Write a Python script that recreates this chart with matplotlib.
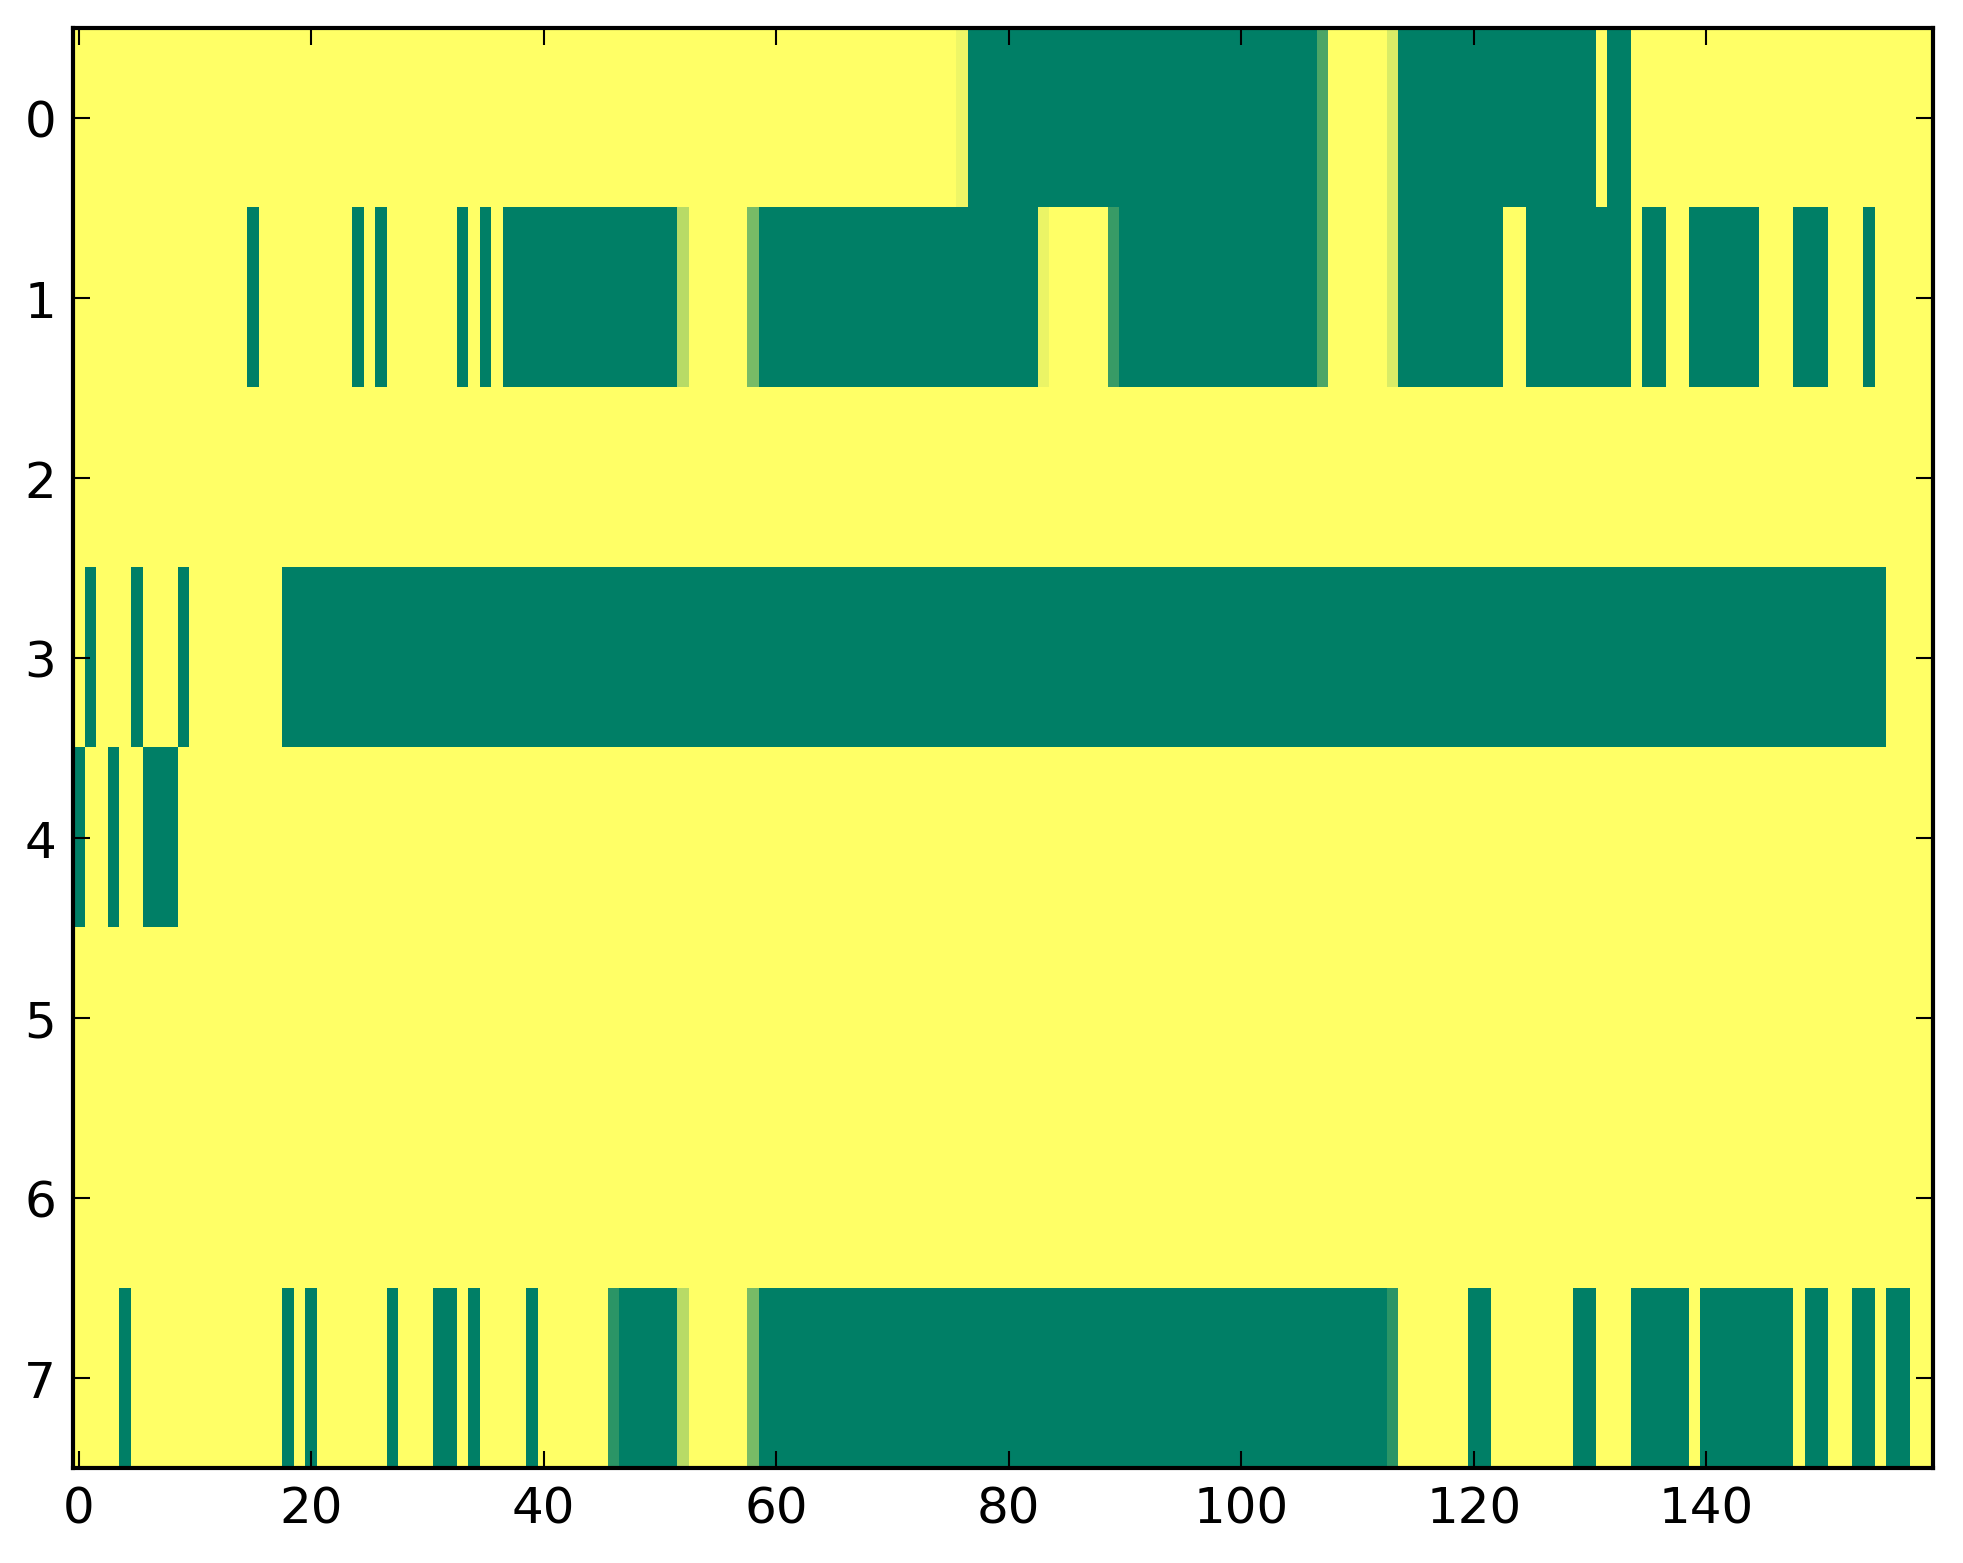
import numpy as np
import matplotlib
matplotlib.use("Agg")
import matplotlib.pyplot as plt

n_rows = 8
n_cols = 160

# Each row: runs (start, end inclusive) of cells with value 0 (dark green);
# everything else is 1 (yellow) unless listed in the partial-value dicts.
row0_zero = [(77, 106), (114, 130), (132, 133)]
row0_part = {76: 0.93, 107: 0.30, 113: 0.85}

row1_zero = [(15, 15), (24, 24), (26, 26), (33, 33), (35, 35), (37, 51),
             (59, 82), (90, 106), (114, 122), (125, 133), (135, 136),
             (139, 144), (148, 150), (154, 154)]
row1_part = {52: 0.72, 58: 0.47, 83: 0.92, 89: 0.22, 107: 0.30, 113: 0.85}

row2_zero = []
row2_part = {}

row3_zero = [(1, 1), (5, 5), (9, 9), (18, 155)]
row3_part = {}

row4_zero = [(0, 0), (3, 3), (6, 8)]
row4_part = {}

row5_zero = []
row5_part = {}

row6_zero = []
row6_part = {}

row7_zero = [(4, 4), (18, 18), (20, 20), (27, 27), (31, 32), (34, 34),
             (39, 39), (47, 51), (59, 112), (120, 121), (129, 130),
             (134, 138), (140, 147), (149, 150), (153, 154), (156, 157)]
row7_part = {46: 0.17, 52: 0.72, 58: 0.47, 113: 0.17}

zero_runs = [row0_zero, row1_zero, row2_zero, row3_zero,
             row4_zero, row5_zero, row6_zero, row7_zero]
partials = [row0_part, row1_part, row2_part, row3_part,
            row4_part, row5_part, row6_part, row7_part]

data = np.ones((n_rows, n_cols))
for r in range(n_rows):
    for a, b in zero_runs[r]:
        data[r, a:b + 1] = 0.0
    for c, v in partials[r].items():
        data[r, c] = v

DPI = 300
plt.rcParams.update({
    "font.family": "DejaVu Sans",
    "font.size": 12,
    "xtick.direction": "in",
    "ytick.direction": "in",
    "xtick.top": True,
    "ytick.right": True,
    "xtick.major.size": 4,
    "ytick.major.size": 4,
    "xtick.major.width": 0.5,
    "ytick.major.width": 0.5,
    "xtick.major.pad": 4,
    "ytick.major.pad": 4,
    "axes.linewidth": 1.0,
})

fig = plt.figure(figsize=(1963 / DPI, 1564 / DPI), dpi=DPI)
ax = fig.add_axes([0.03714, 0.06093, 0.94752, 0.92072])
ax.imshow(data, cmap="summer", vmin=0, vmax=1, aspect="auto",
          interpolation="nearest")
ax.set_xticks(np.arange(0, 141, 20))
ax.set_yticks(np.arange(0, 8))
ax.set_xlim(-0.5, n_cols - 0.5)
ax.set_ylim(n_rows - 0.5, -0.5)
fig.savefig("out.png", dpi=DPI, facecolor="white")
